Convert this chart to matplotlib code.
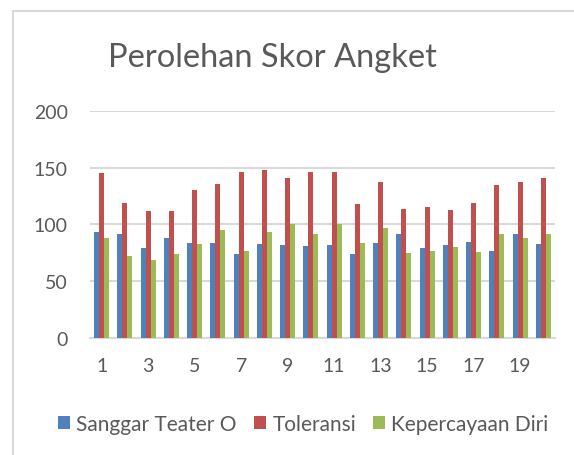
import matplotlib
matplotlib.use("Agg")
import matplotlib.pyplot as plt
import numpy as np
from matplotlib.patches import Rectangle

plt.rcParams['font.family'] = ['Lato', 'DejaVu Sans']

groups = np.arange(1, 21)
sanggar = [93, 92, 79, 88, 84, 84, 74, 83, 82, 81, 82, 74, 84, 92, 79, 82, 85, 77, 92, 83]
toleransi = [145, 119, 112, 112, 130, 136, 146, 148, 141, 146, 146, 118, 137, 114, 115, 113, 119, 135, 137, 141]
kepercayaan = [88, 72, 69, 74, 83, 95, 77, 93, 100, 92, 100, 84, 97, 75, 77, 80, 76, 92, 88, 92]
series_names = ["Sanggar Teater O", "Toleransi", "Kepercayaan Diri"]
colors = ["#4F81BD", "#C0504D", "#9BBB59"]
text_color = "#595959"
grid_color = "#D9D9D9"

fig = plt.figure(figsize=(5.74, 4.56), dpi=100)
ax = fig.add_axes([0.1568, 0.2566, 0.8101, 0.4978])

w = 0.215
for k, vals in enumerate([sanggar, toleransi, kepercayaan]):
    ax.bar(groups + (k - 1) * w, vals, width=w, color=colors[k],
           label=series_names[k], zorder=3)

ax.set_xlim(0.5, 20.5)
ax.set_ylim(0, 200)
ax.set_yticks(range(0, 201, 50))
ax.set_xticks(range(1, 21, 2))
ax.yaxis.grid(True, color=grid_color, linewidth=1.5, zorder=0)
for s in ["top", "right", "left"]:
    ax.spines[s].set_visible(False)
ax.spines["bottom"].set_color(grid_color)
ax.spines["bottom"].set_linewidth(1.5)
ax.tick_params(length=0, labelsize=14, colors=text_color)
ax.tick_params(axis="y", pad=16)
ax.tick_params(axis="x", pad=14)

fig.text(0.474, 0.873, "Perolehan Skor Angket", ha="center", va="center",
         fontsize=23.5, color=text_color)

handles, labels = ax.get_legend_handles_labels()
fig.legend(handles, labels, loc="center", bbox_to_anchor=(0.528, 0.068), ncol=3,
           frameon=False, fontsize=15, labelcolor=text_color,
           handlelength=0.6, handleheight=0.6, handletextpad=0.3, columnspacing=0.8)

fig.patches.append(Rectangle((0.0226, -0.1), 1.2, 0.9737 + 0.1,
                             transform=fig.transFigure, fill=False,
                             edgecolor=grid_color, linewidth=1.5))

fig.savefig("out.png", dpi=100)
